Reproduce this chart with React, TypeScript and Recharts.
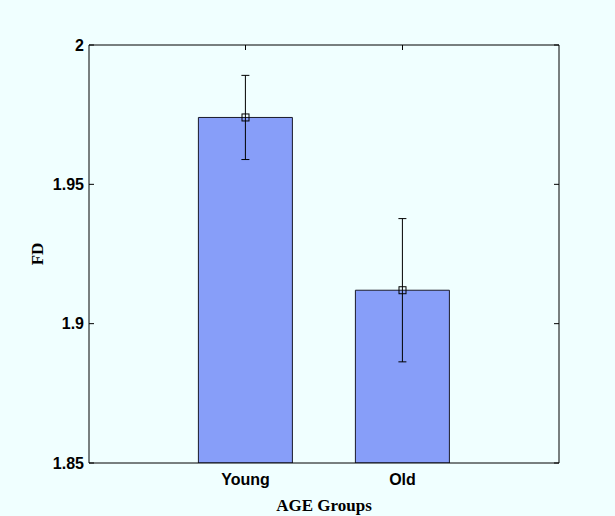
import React from 'react';
import { ComposedChart, Bar, Line, XAxis, YAxis, ErrorBar } from 'recharts';

const categories = ['Young', 'Old'];
const means = [1.974, 1.912];
const errors = [0.0151, 0.0257];
const yTicks = [1.85, 1.9, 1.95, 2];

const data = categories.map((name, i) => ({ name, value: means[i], err: errors[i] }));

const SquareDot = (props: any) => {
  const { cx, cy } = props;
  if (cx == null || cy == null) return null;
  return <rect x={cx - 3.5} y={cy - 3.5} width={7} height={7} fill="none" stroke="#000" strokeWidth={1} />;
};

const tickFont = { fontFamily: 'Liberation Sans, Arial, sans-serif', fontWeight: 700, fontSize: 16, fill: '#000' };

export default function App() {
  return (
    <div style={{ position: 'absolute', left: 0, top: 0, width: 615, height: 516, background: '#F0FFFF' }}>
      <ComposedChart
        width={615}
        height={516}
        data={data}
        margin={{ top: 39, right: 46, bottom: 0, left: 30 }}
        barCategoryGap="20%"
      >
        <XAxis
          dataKey="name"
          xAxisId="bottom"
          orientation="bottom"
          height={53}
          padding={{ left: 78, right: 78 }}
          stroke="#000"
          tickLine={false}
          tickSize={0}
          tickMargin={11}
          tick={tickFont}
          label={{
            value: 'AGE Groups',
            position: 'insideBottom',
            offset: 5,
            style: { fontFamily: 'Liberation Serif, Times New Roman, serif', fontWeight: 700, fontSize: 17, fill: '#000' },
          }}
        />
        <XAxis
          dataKey="name"
          xAxisId="top"
          orientation="top"
          height={6}
          padding={{ left: 78, right: 78 }}
          stroke="#000"
          tickSize={-5}
          tickFormatter={() => ''}
        />
        <YAxis
          yAxisId="left"
          orientation="left"
          width={59}
          domain={[1.85, 2]}
          ticks={yTicks}
          allowDataOverflow
          stroke="#000"
          tickSize={-5}
          tickMargin={10}
          tick={tickFont}
          label={{
            content: (p: any) => {
              const vb = p.viewBox;
              const x = vb.x + 7;
              const y = vb.y + vb.height / 2;
              return (
                <text
                  x={x}
                  y={y}
                  transform={`rotate(-90, ${x}, ${y})`}
                  textAnchor="middle"
                  dominantBaseline="central"
                  style={{ fontFamily: 'Liberation Serif, Times New Roman, serif', fontWeight: 700, fontSize: 17, fill: '#000' }}
                >
                  FD
                </text>
              );
            },
          }}
        />
        <YAxis
          yAxisId="right"
          orientation="right"
          width={10}
          domain={[1.85, 2]}
          ticks={yTicks}
          allowDataOverflow
          stroke="#000"
          tickSize={-5}
          tickFormatter={() => ''}
        />
        <Bar
          dataKey="value"
          xAxisId="bottom"
          yAxisId="left"
          fill="#879EF9"
          stroke="#1a1a2a"
          strokeWidth={1}
          isAnimationActive={false}
        >
          <ErrorBar dataKey="err" width={4} stroke="#000" strokeWidth={1} direction="y" />
        </Bar>
        <Line
          dataKey="value"
          xAxisId="bottom"
          yAxisId="left"
          stroke="none"
          dot={<SquareDot />}
          activeDot={false}
          isAnimationActive={false}
        />
      </ComposedChart>
    </div>
  );
}
